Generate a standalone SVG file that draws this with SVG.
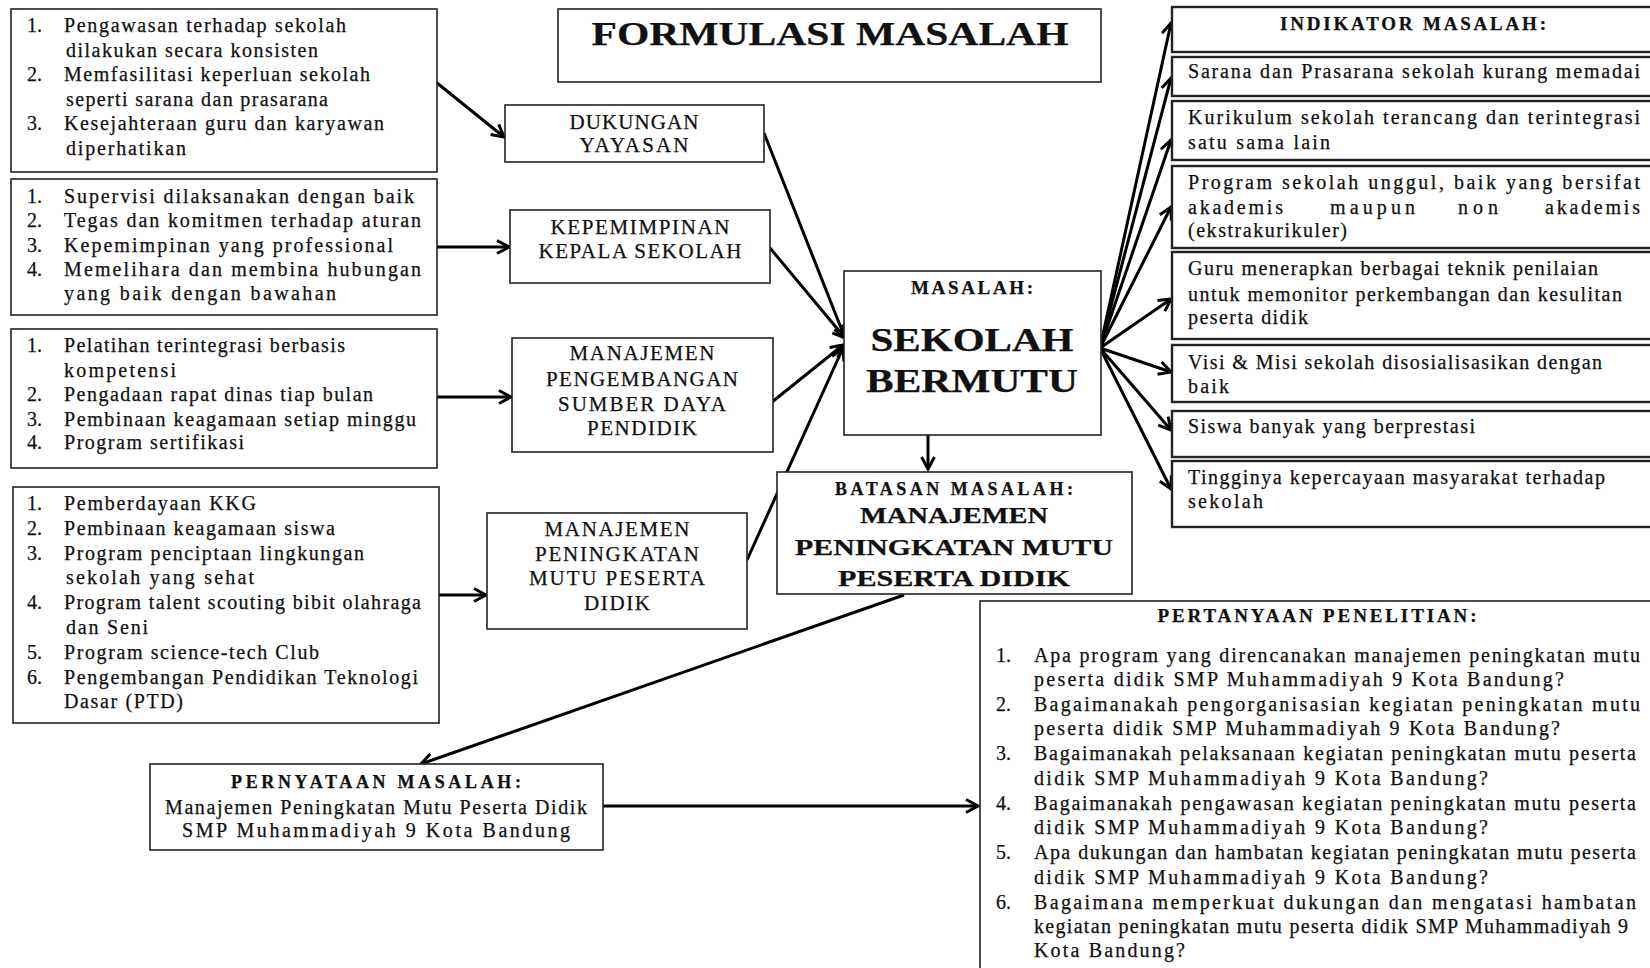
<svg xmlns="http://www.w3.org/2000/svg" width="1650" height="968" viewBox="0 0 1650 968">
<defs>
<style>
.b{fill:#fff;stroke:#222;stroke-width:1.6}
.rb{fill:#fff;stroke:#222;stroke-width:2.4}
text{font-family:"Liberation Serif","Times New Roman",serif;font-size:20px;fill:#111;stroke:#111;stroke-width:0.25}
.c{text-anchor:middle}
.h{font-weight:bold}
.m{font-size:21px}
.q{font-size:20px}
#connectors line{stroke:#000;stroke-width:3;marker-end:url(#ah)}
</style>
<marker id="ah" markerUnits="userSpaceOnUse" markerWidth="18" markerHeight="18" refX="14" refY="8" orient="auto">
<path d="M2,1.5 L14,8 L2,14.5" fill="none" stroke="#000" stroke-width="3"/>
</marker>
</defs>
<rect width="1650" height="968" fill="#fff"/>

<g id="connectors">
<line x1="437" y1="83" x2="504" y2="137"/>
<line x1="437" y1="247" x2="509" y2="247"/>
<line x1="437" y1="397" x2="511" y2="397"/>
<line x1="439" y1="595" x2="486" y2="595"/>
<line x1="764" y1="133" x2="845" y2="338"/>
<line x1="770" y1="248" x2="845" y2="338"/>
<line x1="772" y1="402" x2="843" y2="345"/>
<line x1="747" y1="560" x2="843" y2="348"/>
<line x1="1100" y1="348" x2="1171" y2="23"/>
<line x1="1100" y1="348" x2="1171" y2="78"/>
<line x1="1100" y1="348" x2="1171" y2="140"/>
<line x1="1100" y1="348" x2="1171" y2="207"/>
<line x1="1100" y1="348" x2="1171" y2="299"/>
<line x1="1100" y1="348" x2="1171" y2="372"/>
<line x1="1100" y1="348" x2="1171" y2="430"/>
<line x1="1100" y1="348" x2="1171" y2="489"/>
<line x1="928" y1="435" x2="928" y2="469"/>
<line x1="904" y1="595" x2="421" y2="764"/>
<line x1="603" y1="806" x2="978" y2="806"/>
</g>

<g id="n-title">
<rect class="b" x="558" y="9" width="543" height="73"/>
<text class="c h" x="830" y="45" style="font-size:33px" textLength="477" lengthAdjust="spacingAndGlyphs">FORMULASI MASALAH</text>
</g>

<g id="n-list-yayasan">
<rect class="b" x="11" y="9" width="426" height="163"/>
<text x="27" y="32">1.</text><text x="64" y="32" textLength="282">Pengawasan terhadap sekolah</text>
<text x="66" y="56.5" textLength="252">dilakukan secara konsisten</text>
<text x="27" y="81">2.</text><text x="64" y="81" textLength="306">Memfasilitasi keperluan sekolah</text>
<text x="66" y="105.5" textLength="262">seperti sarana dan prasarana</text>
<text x="27" y="130">3.</text><text x="64" y="130" textLength="320">Kesejahteraan guru dan karyawan</text>
<text x="66" y="154.5" textLength="120">diperhatikan</text>
</g>

<g id="n-list-kepemimpinan">
<rect class="b" x="11" y="179" width="426" height="136"/>
<text x="27" y="203">1.</text><text x="64" y="203" textLength="350">Supervisi dilaksanakan dengan baik</text>
<text x="27" y="227">2.</text><text x="64" y="227" textLength="357">Tegas dan komitmen terhadap aturan</text>
<text x="27" y="252">3.</text><text x="64" y="252" textLength="329">Kepemimpinan yang professional</text>
<text x="27" y="276">4.</text><text x="64" y="276" textLength="357">Memelihara dan membina hubungan</text>
<text x="64" y="300" textLength="272">yang baik dengan bawahan</text>
</g>

<g id="n-list-sdm">
<rect class="b" x="11" y="329" width="426" height="139"/>
<text x="27" y="352">1.</text><text x="64" y="352" textLength="281">Pelatihan terintegrasi berbasis</text>
<text x="64" y="377" textLength="112">kompetensi</text>
<text x="27" y="401">2.</text><text x="64" y="401" textLength="309">Pengadaan rapat dinas tiap bulan</text>
<text x="27" y="426">3.</text><text x="64" y="426" textLength="352">Pembinaan keagamaan setiap minggu</text>
<text x="27" y="449">4.</text><text x="64" y="449" textLength="180">Program  sertifikasi</text>
</g>

<g id="n-list-mutu">
<rect class="b" x="13" y="487" width="426" height="236"/>
<text x="27" y="510">1.</text><text x="64" y="510" textLength="192">Pemberdayaan KKG</text>
<text x="27" y="535">2.</text><text x="64" y="535" textLength="271">Pembinaan keagamaan siswa</text>
<text x="27" y="560">3.</text><text x="64" y="560" textLength="300">Program penciptaan lingkungan</text>
<text x="66" y="584" textLength="188">sekolah yang sehat</text>
<text x="27" y="609">4.</text><text x="64" y="609" textLength="357">Program talent scouting bibit olahraga</text>
<text x="66" y="634" textLength="82">dan Seni</text>
<text x="27" y="659">5.</text><text x="64" y="659" textLength="255">Program science-tech Club</text>
<text x="27" y="684">6.</text><text x="64" y="684" textLength="354">Pengembangan Pendidikan Teknologi</text>
<text x="64" y="708" textLength="119">Dasar (PTD)</text>
</g>

<g id="n-dukungan">
<rect class="b" x="505" y="105" width="259" height="57"/>
<text class="c m" x="634" y="129" textLength="129">DUKUNGAN</text>
<text class="c m" x="634" y="152" textLength="109">YAYASAN</text>
</g>

<g id="n-kepemimpinan">
<rect class="b" x="510" y="210" width="260" height="73"/>
<text class="c m" x="640" y="234" textLength="179">KEPEMIMPINAN</text>
<text class="c m" x="640" y="258" textLength="203">KEPALA SEKOLAH</text>
</g>

<g id="n-sdm">
<rect class="b" x="512" y="338" width="261" height="114"/>
<text class="c m" x="642" y="360" textLength="145">MANAJEMEN</text>
<text class="c m" x="642" y="386" textLength="192">PENGEMBANGAN</text>
<text class="c m" x="642" y="411" textLength="168">SUMBER DAYA</text>
<text class="c m" x="642" y="435" textLength="110">PENDIDIK</text>
</g>

<g id="n-mutu">
<rect class="b" x="487" y="513" width="260" height="116"/>
<text class="c m" x="617" y="536" textLength="145">MANAJEMEN</text>
<text class="c m" x="617" y="561" textLength="164">PENINGKATAN</text>
<text class="c m" x="617" y="585" textLength="176">MUTU PESERTA</text>
<text class="c m" x="617" y="610" textLength="66">DIDIK</text>
</g>

<g id="n-masalah">
<rect class="b" x="844" y="271" width="257" height="164"/>
<text class="c h" x="972" y="294" style="font-size:19px" textLength="122">MASALAH:</text>
<text class="c h" x="972" y="351" style="font-size:33px" textLength="203" lengthAdjust="spacingAndGlyphs">SEKOLAH</text>
<text class="c h" x="972" y="392" style="font-size:33px" textLength="212" lengthAdjust="spacingAndGlyphs">BERMUTU</text>
</g>

<g id="n-batasan">
<rect class="b" x="777" y="472" width="355" height="122"/>
<text class="c h" x="954" y="495" style="font-size:18px" textLength="238">BATASAN MASALAH:</text>
<text class="c h" x="954" y="523" style="font-size:23px" textLength="188" lengthAdjust="spacingAndGlyphs">MANAJEMEN</text>
<text class="c h" x="954" y="555" style="font-size:23px" textLength="318" lengthAdjust="spacingAndGlyphs">PENINGKATAN MUTU</text>
<text class="c h" x="954" y="586" style="font-size:23px" textLength="232" lengthAdjust="spacingAndGlyphs">PESERTA DIDIK</text>
</g>

<g id="n-indikator">
<rect class="rb" x="1172" y="7" width="490" height="45"/>
<text class="c h" x="1413" y="30" style="font-size:19px" textLength="266">INDIKATOR MASALAH:</text>
</g>
<g id="n-ind-1">
<rect class="rb" x="1172" y="57" width="490" height="39"/>
<text x="1188" y="78" textLength="452">Sarana dan Prasarana sekolah kurang memadai</text>
</g>
<g id="n-ind-2">
<rect class="rb" x="1172" y="101" width="490" height="59"/>
<text x="1188" y="124" textLength="452">Kurikulum  sekolah  terancang  dan  terintegrasi</text>
<text x="1188" y="149" textLength="142">satu sama lain</text>
</g>
<g id="n-ind-3">
<rect class="rb" x="1172" y="166" width="490" height="82"/>
<text x="1188" y="189" textLength="452">Program  sekolah  unggul,  baik  yang  bersifat</text>
<text x="1188" y="214" textLength="95">akademis</text>
<text x="1330" y="214" textLength="85">maupun</text>
<text x="1458" y="214" textLength="40">non</text>
<text x="1545" y="214" textLength="95">akademis</text>
<text x="1188" y="237" textLength="159">(ekstrakurikuler)</text>
</g>
<g id="n-ind-4">
<rect class="rb" x="1172" y="252" width="490" height="87"/>
<text x="1188" y="275" textLength="410">Guru menerapkan berbagai teknik penilaian</text>
<text x="1188" y="301" textLength="434">untuk memonitor perkembangan dan kesulitan</text>
<text x="1188" y="324" textLength="120">peserta didik</text>
</g>
<g id="n-ind-5">
<rect class="rb" x="1172" y="345" width="490" height="57"/>
<text x="1188" y="369" textLength="414">Visi &amp; Misi sekolah disosialisasikan dengan</text>
<text x="1188" y="393" textLength="41">baik</text>
</g>
<g id="n-ind-6">
<rect class="rb" x="1172" y="411" width="490" height="46"/>
<text x="1188" y="433" textLength="287">Siswa banyak yang berprestasi</text>
</g>
<g id="n-ind-7">
<rect class="rb" x="1172" y="461" width="490" height="66"/>
<text x="1188" y="484" textLength="417">Tingginya kepercayaan masyarakat terhadap</text>
<text x="1188" y="508" textLength="75">sekolah</text>
</g>

<g id="n-pernyataan">
<rect class="b" x="150" y="764" width="453" height="86"/>
<text class="c h" x="376" y="788" style="font-size:18px" textLength="290">PERNYATAAN MASALAH:</text>
<text class="c" x="376" y="814" textLength="422">Manajemen Peningkatan Mutu Peserta Didik</text>
<text class="c" x="376" y="837" textLength="388">SMP Muhammadiyah 9 Kota Bandung</text>
</g>

<g id="n-pertanyaan">
<rect class="b" x="980" y="601" width="690" height="400"/>
<text class="c h" x="1317" y="622" style="font-size:19px" textLength="319">PERTANYAAN PENELITIAN:</text>
<text class="q" x="996" y="662">1.</text><text class="q" x="1034" y="662" textLength="606">Apa program yang direncanakan manajemen peningkatan mutu</text>
<text class="q" x="1034" y="686" textLength="530">peserta didik  SMP Muhammadiyah 9 Kota Bandung?</text>
<text class="q" x="996" y="711">2.</text><text class="q" x="1034" y="711" textLength="606">Bagaimanakah pengorganisasian kegiatan peningkatan mutu</text>
<text class="q" x="1034" y="735" textLength="526">peserta didik SMP Muhammadiyah 9 Kota Bandung?</text>
<text class="q" x="996" y="760">3.</text><text class="q" x="1034" y="760" textLength="602">Bagaimanakah pelaksanaan kegiatan peningkatan mutu peserta</text>
<text class="q" x="1034" y="785" textLength="454">didik  SMP Muhammadiyah 9 Kota Bandung?</text>
<text class="q" x="996" y="810">4.</text><text class="q" x="1034" y="810" textLength="602">Bagaimanakah pengawasan kegiatan peningkatan mutu peserta</text>
<text class="q" x="1034" y="834" textLength="454">didik  SMP Muhammadiyah 9 Kota Bandung?</text>
<text class="q" x="996" y="859">5.</text><text class="q" x="1034" y="859" textLength="602">Apa dukungan dan hambatan kegiatan peningkatan mutu peserta</text>
<text class="q" x="1034" y="884" textLength="454">didik  SMP Muhammadiyah 9 Kota Bandung?</text>
<text class="q" x="996" y="909">6.</text><text class="q" x="1034" y="909" textLength="602">Bagaimana memperkuat dukungan dan mengatasi hambatan</text>
<text class="q" x="1034" y="933" textLength="594">kegiatan peningkatan mutu peserta didik  SMP Muhammadiyah 9</text>
<text class="q" x="1034" y="957" textLength="151">Kota Bandung?</text>
</g>
</svg>
